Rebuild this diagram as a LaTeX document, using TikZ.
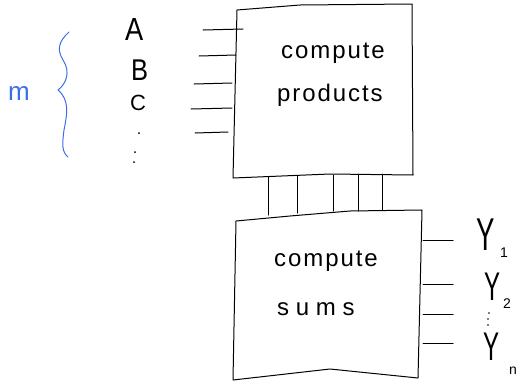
\documentclass[tikz,border=0pt]{standalone}
\usepackage{fontspec}
\setmainfont{Liberation Sans}
\newfontfamily\handfont[LetterSpace=8]{Liberation Sans}
\newfontfamily\widehandfont[LetterSpace=28]{Liberation Sans}
\definecolor{penblue}{RGB}{60,110,230}
\begin{document}
\begin{tikzpicture}[x=1pt,y=-1pt,
  pen/.style={draw=black,line width=1pt,line cap=round,line join=round},
  blue pen/.style={draw=penblue,line width=1pt,line cap=round},
  word/.style={font=\handfont\fontsize{24}{24}\selectfont,inner sep=0pt,anchor=base west},
  letter/.style={inner sep=0pt,anchor=base west},
  sub/.style={font=\fontsize{14}{14}\selectfont,inner sep=0pt,anchor=base west}]
\useasboundingbox (0,0) rectangle (524,381);

% corners of the two boxes
\coordinate (p1) at (237,10);  \coordinate (p2) at (412,4);
\coordinate (p3) at (413,175); \coordinate (p4) at (233,178);
\coordinate (s1) at (236,221); \coordinate (s2) at (422,210);
\coordinate (s3) at (418,378); \coordinate (s4) at (233,380);

\draw[pen] (p1) -- (300,5) -- (p2) -- (p3) -- (330,174) -- (p4) -- cycle;
\draw[pen] (s1) -- (290,216) -- (350,211) -- (s2) -- (s3) -- (330,369) -- (s4) -- cycle;

\node[word] (prod1) at (281,58) {compute};
\node[word] (prod2) at (277,101) {products};
\node[word] (sum1) at (274,266) {compute};
\node[word,font=\widehandfont\fontsize{24}{24}\selectfont] (sum2) at (277,315) {sums};

% inputs on the left
\node[letter,font=\fontsize{32}{32}\selectfont] (A) at (125,40) {\scalebox{0.85}[1]{A}};
\node[letter,font=\fontsize{30}{30}\selectfont] (B) at (131,80) {\scalebox{0.85}[1]{B}};
\node[letter,font=\fontsize{22}{22}\selectfont] (C) at (130,110) {C};
\fill (139,133) circle (1pt);
\fill (135,152) circle (1pt);
\fill (134,162) circle (1pt);

\foreach \y/\a/\b in {30/203/243, 56/199/236, 84/194/232, 109/191/232, 133/195/228}{
  \coordinate (inA) at (\a,\y); \coordinate (inB) at (\b,\y-1);
  \draw[pen] (inA) -- (inB);
}

% bundle between the two boxes
\foreach \x/\t/\b in {268/177/215, 297/176/213, 333/175/211, 358/174/211, 382/174/210}{
  \coordinate (uA) at (\x,\t); \coordinate (uB) at (\x,\b);
  \draw[pen] (uA) -- (uB);
}

% outputs on the right
\foreach \y in {240,284,314,343}{
  \coordinate (oA) at (423,\y); \coordinate (oB) at (453,\y);
  \draw[pen] (oA) -- (oB);
}
\node[letter,font=\fontsize{46}{46}\selectfont] (y1) at (476,250) {\scalebox{0.6}[1]{Y}};
\node[sub] (n1) at (500,257) {1};
\node[letter,font=\fontsize{40}{40}\selectfont] (y2) at (484,300) {\scalebox{0.6}[1]{Y}};
\node[sub] (n2) at (503,308) {2};
\fill (489,313) circle (0.9pt);
\fill (488,319) circle (0.9pt);
\fill (488,325) circle (0.9pt);
\node[letter,font=\fontsize{40}{40}\selectfont] (yn) at (483,360) {\scalebox{0.6}[1]{Y}};
\node[sub] (nn) at (509,374) {n};

% the blue brace and its count
\draw[blue pen] (69,32) .. controls (58,42) and (57,50) .. (63,60)
  .. controls (71,72) and (66,84) .. (58,90)
  .. controls (70,100) and (67,115) .. (64,130)
  .. controls (62,145) and (62,152) .. (68,157);
\node[letter,font=\fontsize{26}{26}\selectfont,text=penblue] (m) at (8,100) {m};
\end{tikzpicture}
\end{document}
